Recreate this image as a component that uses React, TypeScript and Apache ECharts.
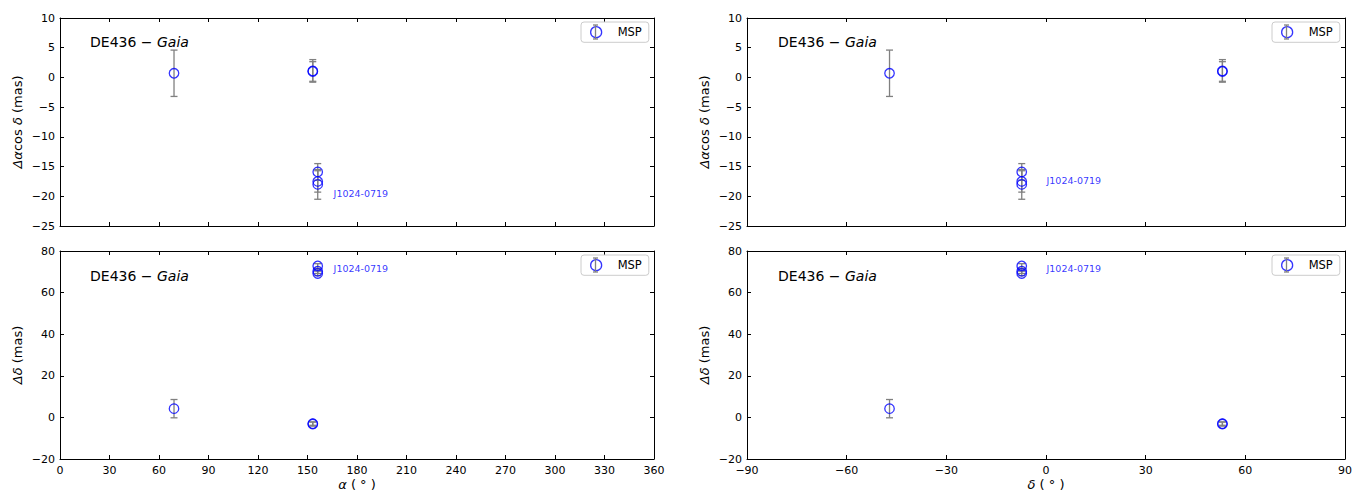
import React, { useEffect, useRef } from "react";
import * as echarts from "echarts";

// ---- data ----
const alphaDeg = [69.1, 153.2, 153.2, 156.2, 156.2, 156.2];
const deltaDeg = [-47.1, 53.1, 53.1, -7.3, -7.3, -7.3];
const dAlphaCosDelta = [0.7, 1.1, 1.0, -15.9, -17.5, -18.0];
const dAlphaCosDeltaErr = [3.9, 1.9, 1.65, 1.4, 1.8, 2.5];
const dDelta = [4.2, -3.2, -3.0, 72.8, 70.3, 69.2];
const dDeltaErr = [4.4, 1.0, 0.8, 1.1, 1.1, 1.1];

const seriesName = "MSP";
const pulsarLabel = "J1024-0719";
// label anchors [x, y] in data units for each panel
const labelTopLeft = [165.5, -19.5];
const labelTopRight = [0.0, -17.4];
const labelBottomLeft = [165.5, 71.5];
const labelBottomRight = [0.0, 71.5];

const alphaTicks = { min: 0, max: 360, interval: 30 };
const deltaTicks = { min: -90, max: 90, interval: 30 };
const topTicks = { min: -25, max: 10, interval: 5 };
const bottomTicks = { min: -20, max: 80, interval: 20 };

const FONT = "DejaVu Sans";
const BLUE = "#0000ff";
const GREY = "#808080";

const grids = [
  { left: 60, top: 18, width: 594, height: 208 },
  { left: 60, top: 251, width: 594, height: 208 },
  { left: 747, top: 18, width: 598, height: 208 },
  { left: 747, top: 251, width: 598, height: 208 },
];

const minusFmt = (v: number) => String(v).replace("-", "\u2212");

function xAxes(gi: number, t: any, showLabels: boolean, name: any) {
  const common = {
    gridIndex: gi,
    type: "value",
    min: t.min,
    max: t.max,
    interval: t.interval,
    splitLine: { show: false },
    axisLine: { show: true, onZero: false, lineStyle: { color: "#000", width: 1 } },
    axisTick: { show: true, inside: true, length: 4, lineStyle: { color: "#000", width: 1 } },
  };
  return [
    {
      ...common,
      position: "bottom",
      name: showLabels ? name : "",
      nameLocation: "middle",
      nameGap: 19,
      nameTextStyle: {
        color: "#000",
        fontSize: 13,
        fontFamily: FONT,
        rich: { i: { fontStyle: "italic", fontSize: 13, fontFamily: FONT, color: "#000" } },
      },
      axisLabel: {
        show: showLabels,
        color: "#000",
        fontSize: 11,
        fontFamily: FONT,
        margin: 6,
        showMinLabel: true,
        showMaxLabel: true,
        formatter: minusFmt,
      },
    },
    { ...common, position: "top", axisLabel: { show: false } },
  ];
}

function yAxes(gi: number, t: any, name: string) {
  const common = {
    gridIndex: gi,
    type: "value",
    min: t.min,
    max: t.max,
    interval: t.interval,
    splitLine: { show: false },
    axisLine: { show: true, onZero: false, lineStyle: { color: "#000", width: 1 } },
    axisTick: { show: true, inside: true, length: 4, lineStyle: { color: "#000", width: 1 } },
  };
  return [
    {
      ...common,
      position: "left",
      name,
      nameLocation: "middle",
      nameGap: 36,
      nameRotate: 90,
      nameTextStyle: {
        color: "#000",
        fontSize: 13,
        fontFamily: FONT,
        rich: { i: { fontStyle: "italic", fontSize: 13, fontFamily: FONT, color: "#000" } },
      },
      axisLabel: {
        show: true,
        color: "#000",
        fontSize: 11,
        fontFamily: FONT,
        margin: 5,
        showMinLabel: true,
        showMaxLabel: true,
        formatter: minusFmt,
      },
    },
    { ...common, position: "right", axisLabel: { show: false } },
  ];
}

function errRender(params: any, api: any) {
  const x = api.value(0);
  const y = api.value(1);
  const e = api.value(2);
  const top = api.coord([x, y + e]);
  const bot = api.coord([x, y - e]);
  const w = 3.5;
  const style = { stroke: GREY, lineWidth: 1.3, fill: null };
  return {
    type: "group",
    children: [
      { type: "line", shape: { x1: top[0], y1: top[1], x2: bot[0], y2: bot[1] }, style },
      { type: "line", shape: { x1: top[0] - w, y1: top[1], x2: top[0] + w, y2: top[1] }, style },
      { type: "line", shape: { x1: bot[0] - w, y1: bot[1], x2: bot[0] + w, y2: bot[1] }, style },
    ],
  };
}

function panelSeries(gi: number, xs: number[], ys: number[], es: number[], lab: number[]) {
  const data = xs.map((x, i) => [x, ys[i], es[i]]);
  return [
    {
      type: "custom",
      name: "err" + gi,
      xAxisIndex: 2 * gi,
      yAxisIndex: 2 * gi,
      renderItem: errRender,
      data,
      z: 2,
      silent: true,
    },
    {
      type: "scatter",
      name: seriesName,
      xAxisIndex: 2 * gi,
      yAxisIndex: 2 * gi,
      symbol: "circle",
      symbolSize: 9.5,
      itemStyle: { color: "rgba(0,0,0,0)", borderColor: BLUE, borderWidth: 1.3 },
      data: data.map((d) => [d[0], d[1]]),
      z: 3,
    },
    {
      type: "scatter",
      name: "label" + gi,
      xAxisIndex: 2 * gi,
      yAxisIndex: 2 * gi,
      symbolSize: 1,
      itemStyle: { color: "rgba(0,0,0,0)" },
      silent: true,
      data: [lab],
      label: {
        show: true,
        position: "right",
        distance: 0,
        formatter: pulsarLabel,
        color: BLUE,
        fontSize: 9.5,
        fontFamily: FONT,
      },
      z: 4,
    },
  ];
}

const legendPos = [
  { left: 581, top: 22 },
  { left: 581, top: 255 },
  { left: 1272, top: 22 },
  { left: 1272, top: 255 },
];

function legendCfg(p: any) {
  return {
    left: p.left,
    top: p.top,
    orient: "horizontal",
    data: [seriesName],
    padding: [4, 7, 4, 9],
    itemWidth: 11,
    itemHeight: 11,
    icon: "circle",
    itemStyle: { color: "rgba(0,0,0,0)", borderColor: BLUE, borderWidth: 1.3 },
    borderColor: "#cccccc",
    borderWidth: 1,
    borderRadius: 3,
    backgroundColor: "rgba(255,255,255,0.8)",
    selectedMode: false,
    textStyle: { color: "#000", fontSize: 11.5, fontFamily: FONT, padding: [0, 0, 0, 11] },
  };
}

function legendErr(p: any) {
  const cx = p.left + 14.5;
  const cy = p.top + 10;
  const s = { stroke: GREY, lineWidth: 1.3 };
  return [
    { type: "line", z: 100, shape: { x1: cx, y1: cy - 7, x2: cx, y2: cy + 7 }, style: s },
    { type: "line", z: 100, shape: { x1: cx - 2.5, y1: cy - 7, x2: cx + 2.5, y2: cy - 7 }, style: s },
    { type: "line", z: 100, shape: { x1: cx - 2.5, y1: cy + 7, x2: cx + 2.5, y2: cy + 7 }, style: s },
  ];
}

const titleGraphics = [
  [90, 42],
  [90, 276],
  [778, 42],
  [778, 276],
].map(([x, y]) => ({
  type: "text",
  x,
  y,
  z: 100,
  style: {
    text: "DE436 \u2212 {i|Gaia}",
    fill: "#000",
    fontSize: 14,
    fontFamily: FONT,
    verticalAlign: "middle",
    align: "left",
    rich: { i: { fontStyle: "italic", fontSize: 14, fontFamily: FONT, fill: "#000" } },
  },
}));

export default function App() {
  const ref = useRef<HTMLDivElement>(null);
  useEffect(() => {
    document.body.style.margin = "0";
    const chart = echarts.init(ref.current as HTMLDivElement, null, { renderer: "svg" });
    const option: any = {
      animation: false,
      backgroundColor: "#fff",
      grid: grids,
      xAxis: [
        ...xAxes(0, alphaTicks, false, ""),
        ...xAxes(1, alphaTicks, true, "{i|α} ( ° )"),
        ...xAxes(2, deltaTicks, false, ""),
        ...xAxes(3, deltaTicks, true, "{i|δ} ( ° )"),
      ],
      yAxis: [
        ...yAxes(0, topTicks, "{i|Δα}cos {i|δ} (mas)"),
        ...yAxes(1, bottomTicks, "{i|Δδ} (mas)"),
        ...yAxes(2, topTicks, "{i|Δα}cos {i|δ} (mas)"),
        ...yAxes(3, bottomTicks, "{i|Δδ} (mas)"),
      ],
      legend: legendPos.map(legendCfg),
      graphic: [...titleGraphics, ...legendPos.flatMap(legendErr)],
      series: [
        ...panelSeries(0, alphaDeg, dAlphaCosDelta, dAlphaCosDeltaErr, labelTopLeft),
        ...panelSeries(1, alphaDeg, dDelta, dDeltaErr, labelBottomLeft),
        ...panelSeries(2, deltaDeg, dAlphaCosDelta, dAlphaCosDeltaErr, labelTopRight),
        ...panelSeries(3, deltaDeg, dDelta, dDeltaErr, labelBottomRight),
      ],
    };
    chart.setOption(option);
    return () => chart.dispose();
  }, []);
  return <div ref={ref} style={{ width: 1363, height: 492 }} />;
}
